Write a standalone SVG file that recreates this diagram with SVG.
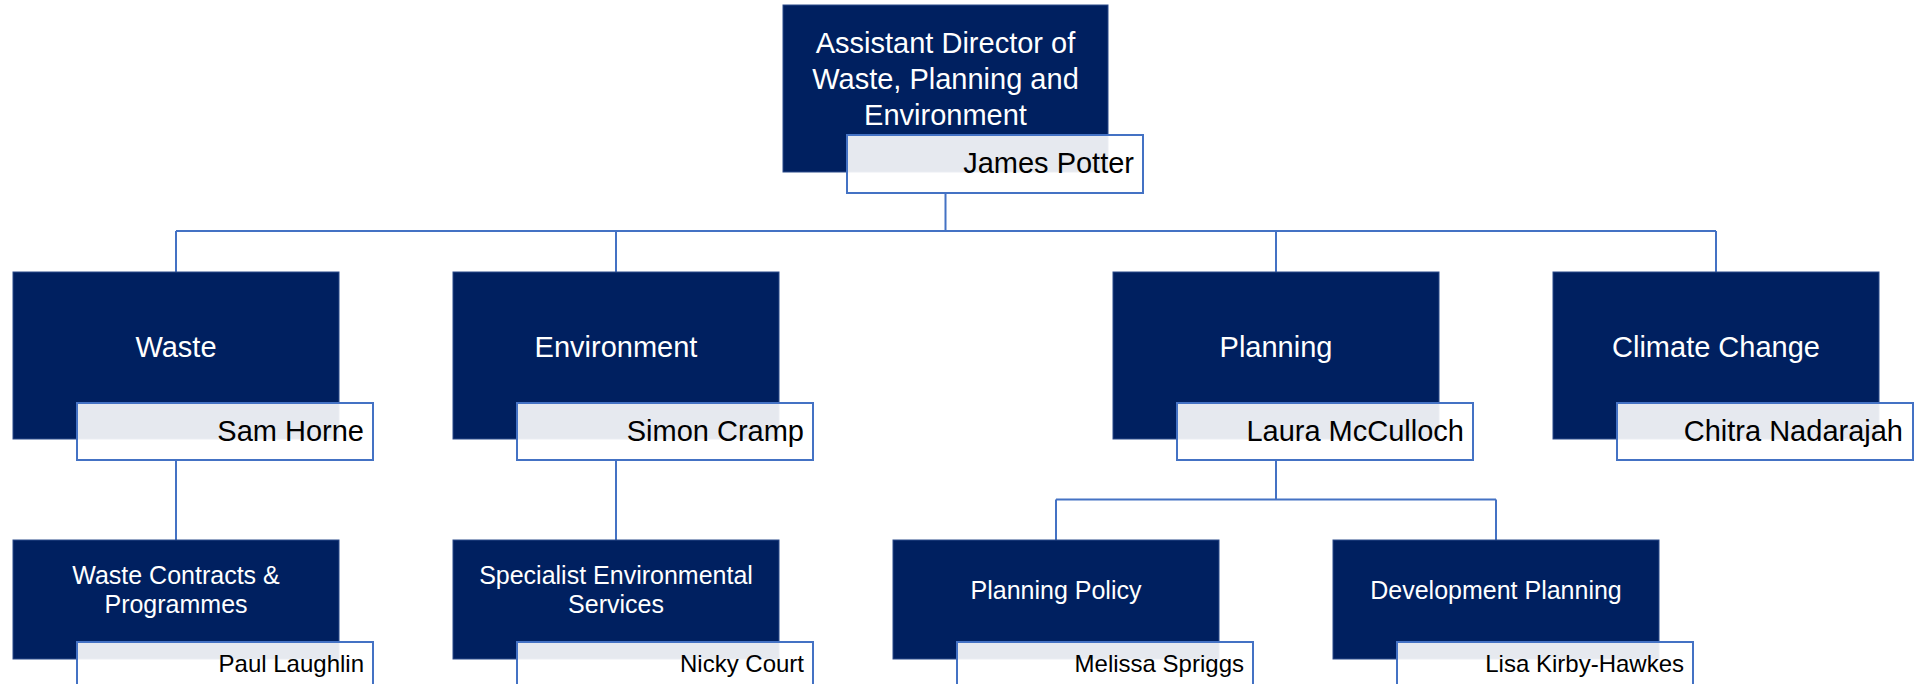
<svg xmlns="http://www.w3.org/2000/svg" width="1925" height="684" viewBox="0 0 1925 684">
<style>
.box{fill:#002060;stroke:#2a4a8a;stroke-width:1}
.nm{fill:#ffffff;fill-opacity:0.9;stroke:#4472C4;stroke-width:2}
.t1{font-family:"Liberation Sans",Arial,sans-serif;font-size:29px;fill:#ffffff;text-anchor:middle}
.t2{font-family:"Liberation Sans",Arial,sans-serif;font-size:29px;fill:#000000;text-anchor:end}
.t3{font-family:"Liberation Sans",Arial,sans-serif;font-size:25px;fill:#ffffff;text-anchor:middle}
.t4{font-family:"Liberation Sans",Arial,sans-serif;font-size:24px;fill:#000000;text-anchor:end}
.c{fill:none;stroke:#4472C4;stroke-width:2}
</style>
<rect width="1925" height="684" fill="#ffffff"/>
<g id="connectors">
<path class="c" d="M945.5,193 V231 M176,231 H1716 M176,231 V272 M616,231 V272 M1276,231 V272 M1716,231 V272"/>
<path class="c" d="M176,460 V540 M616,460 V540"/>
<path class="c" d="M1276,460 V499.5 M1056,499.5 H1496 M1056,499.5 V540 M1496,499.5 V540"/>
</g>
<g id="director">
<rect class="box" x="783" y="5" width="325" height="167"/>
<text class="t1" x="945.5" y="53">Assistant Director of</text>
<text class="t1" x="945.5" y="89">Waste, Planning and</text>
<text class="t1" x="945.5" y="125">Environment</text>
<rect class="nm" x="847" y="135" width="296" height="58"/>
<text class="t2" x="1134" y="173">James Potter</text>
</g>
<g id="waste">
<rect class="box" x="13" y="272" width="326" height="167"/>
<text class="t1" x="176" y="357">Waste</text>
<rect class="nm" x="77" y="403" width="296" height="57"/>
<text class="t2" x="364" y="441">Sam Horne</text>
</g>
<g id="environment">
<rect class="box" x="453" y="272" width="326" height="167"/>
<text class="t1" x="616" y="357">Environment</text>
<rect class="nm" x="517" y="403" width="296" height="57"/>
<text class="t2" x="804" y="441">Simon Cramp</text>
</g>
<g id="planning">
<rect class="box" x="1113" y="272" width="326" height="167"/>
<text class="t1" x="1276" y="357">Planning</text>
<rect class="nm" x="1177" y="403" width="296" height="57"/>
<text class="t2" x="1464" y="441">Laura McCulloch</text>
</g>
<g id="climate">
<rect class="box" x="1553" y="272" width="326" height="167"/>
<text class="t1" x="1716" y="357">Climate Change</text>
<rect class="nm" x="1617" y="403" width="296" height="57"/>
<text class="t2" x="1903" y="441">Chitra Nadarajah</text>
</g>
<g id="waste-contracts">
<rect class="box" x="13" y="540" width="326" height="119"/>
<text class="t3" x="176" y="584">Waste Contracts &amp;</text>
<text class="t3" x="176" y="613">Programmes</text>
<rect class="nm" x="77" y="642" width="296" height="56"/>
<text class="t4" x="364" y="672">Paul Laughlin</text>
</g>
<g id="specialist">
<rect class="box" x="453" y="540" width="326" height="119"/>
<text class="t3" x="616" y="584">Specialist Environmental</text>
<text class="t3" x="616" y="613">Services</text>
<rect class="nm" x="517" y="642" width="296" height="56"/>
<text class="t4" x="804" y="672">Nicky Court</text>
</g>
<g id="planning-policy">
<rect class="box" x="893" y="540" width="326" height="119"/>
<text class="t3" x="1056" y="599">Planning Policy</text>
<rect class="nm" x="957" y="642" width="296" height="56"/>
<text class="t4" x="1244" y="672">Melissa Spriggs</text>
</g>
<g id="development-planning">
<rect class="box" x="1333" y="540" width="326" height="119"/>
<text class="t3" x="1496" y="599">Development Planning</text>
<rect class="nm" x="1397" y="642" width="296" height="56"/>
<text class="t4" x="1684" y="672">Lisa Kirby-Hawkes</text>
</g>
</svg>
